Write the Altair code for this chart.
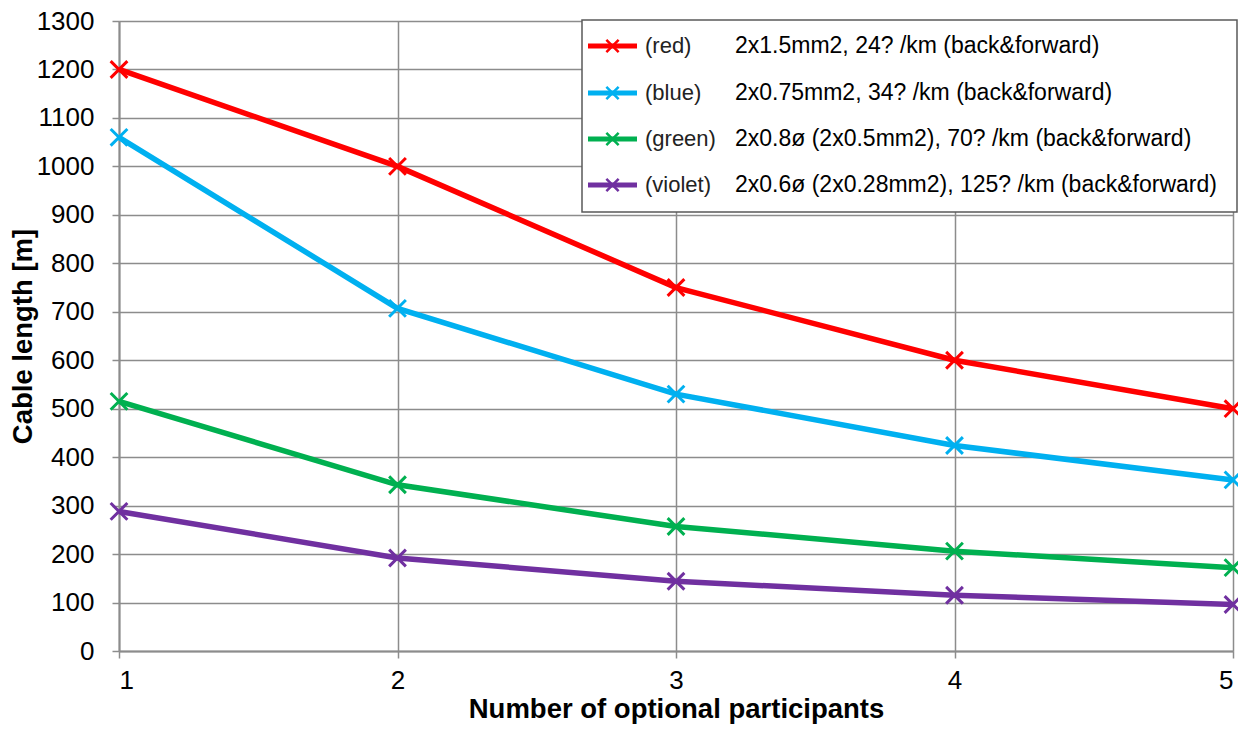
import altair as alt
import pandas as pd

participants = [1, 2, 3, 4, 5]
series_names = ["red", "blue", "green", "violet"]
series_colors = ["#FF0000", "#00B0F0", "#00B050", "#7030A0"]
red_vals = [1200, 1000, 750, 600, 500]
blue_vals = [1060, 707, 530, 424, 353]
green_vals = [515, 343, 257, 206, 172]
violet_vals = [288, 192, 144, 115, 96]
legend_labels = ["(red)", "(blue)", "(green)", "(violet)"]
legend_descs = [
    "2x1.5mm2, 24? /km (back&forward)",
    "2x0.75mm2, 34? /km (back&forward)",
    "2x0.8ø (2x0.5mm2), 70? /km (back&forward)",
    "2x0.6ø (2x0.28mm2), 125? /km (back&forward)",
]
y_ticks = list(range(0, 1301, 100))

rows = []
for name, vals in zip(series_names, [red_vals, blue_vals, green_vals, violet_vals]):
    for x, v in zip(participants, vals):
        rows.append({"series": name, "n": x, "len": v})
df = pd.DataFrame(rows)

W, H = 1114, 630
GRID = "#8C8C8C"
FONT = "Liberation Sans"
XSHAPE = "M-1,-1L1,1M-1,1L1,-1"

color = alt.Color("series:N", scale=alt.Scale(domain=series_names, range=series_colors), legend=None)
xenc = alt.X("n:Q", scale=alt.Scale(domain=[1, 5], nice=False),
             axis=alt.Axis(values=participants, format="d", title="Number of optional participants",
                           titleX=W / 2, titleY=58, titleBaseline="middle", titleAlign="center"))
yenc = alt.Y("len:Q", scale=alt.Scale(domain=[0, 1300], nice=False),
             axis=alt.Axis(values=y_ticks, format="d", title="Cable length [m]", titleX=-96,
                           titleBaseline="middle", titleAlign="center", titleAngle=270))

base = alt.Chart(df)
lines = base.mark_line(strokeWidth=5.5).encode(x=xenc, y=yenc, color=color, detail="series:N")
pts = base.mark_point(shape=XSHAPE, filled=False, strokeWidth=3, size=280, opacity=1).encode(
    x="n:Q", y="len:Q", color=color)

layers = [lines, pts]

# legend box
lx0, lx1, ly0, ly1 = 463, 1118, -1, 191
row_y = [25, 72, 118, 164]
one = pd.DataFrame({"a": [0]})
box = alt.Chart(one).mark_rect(fill="white", stroke="#595959", strokeWidth=1.5).encode(
    x=alt.value(lx0), x2=alt.value(lx1), y=alt.value(ly0), y2=alt.value(ly1))
layers.append(box)
for i in range(4):
    c = series_colors[i]
    yv = row_y[i]
    layers.append(alt.Chart(one).mark_rule(color=c, strokeWidth=5).encode(
        x=alt.value(469), x2=alt.value(518), y=alt.value(yv)))
    layers.append(alt.Chart(one).mark_point(shape=XSHAPE, filled=False, strokeWidth=2.5, size=150,
                                            color=c, opacity=1).encode(x=alt.value(493.5), y=alt.value(yv)))
    layers.append(alt.Chart(pd.DataFrame({"t": [legend_labels[i]]})).mark_text(
        align="left", baseline="middle", fontSize=22, font=FONT, color="#222").encode(
        text="t:N", x=alt.value(526), y=alt.value(yv)))
    layers.append(alt.Chart(pd.DataFrame({"t": [legend_descs[i]]})).mark_text(
        align="left", baseline="middle", fontSize=23, font=FONT, color="black").encode(
        text="t:N", x=alt.value(616), y=alt.value(yv)))

chart = alt.layer(*layers).properties(
    width=W, height=H,
    autosize=alt.AutoSizeParams(type="none"),
    padding={"left": 111, "top": 13, "right": 5, "bottom": 74},
).configure_view(strokeWidth=0).configure_axis(
    grid=True, gridColor=GRID, gridWidth=1.5, domainColor=GRID, domainWidth=2,
    tickColor=GRID, tickSize=7, tickWidth=1.5,
    labelFont=FONT, labelFontSize=26, labelColor="black",
    titleFont=FONT, titleFontSize=27.5, titleFontWeight="bold", titleColor="black",
).configure_axisY(labelPadding=18).configure_axisX(labelPadding=9)

chart.save("out.html", embed_options={"renderer": "svg", "actions": False})
